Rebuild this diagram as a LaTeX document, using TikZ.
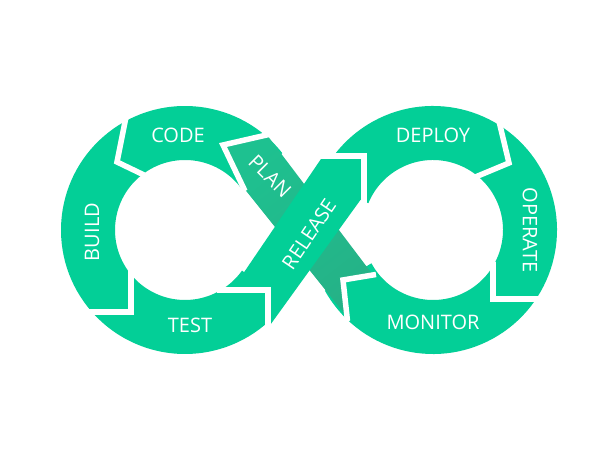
\documentclass[tikz,border=0pt]{standalone}
\usepackage{fontspec}
\setsansfont{Open Sans}
\usepackage{tikz}
\definecolor{mint}{HTML}{03CF97}
\definecolor{planlight}{HTML}{1EC190}
\definecolor{plandark}{HTML}{2A9E7E}
\definecolor{planmid}{HTML}{25B287}

\begin{document}
\begin{tikzpicture}[x=1pt, y=1pt,
    ring/.style={draw=mint, line width=54pt},
    gap/.style={draw=white, line width=5.5pt, line join=miter},
    every node/.append style={text=white, inner sep=0pt,
      font=\sffamily\fontsize{20}{20}\selectfont}]
  \fill[white] (0,0) rectangle (600,460);
  \useasboundingbox (0,0) rectangle (600,460);
  \coordinate (L) at (185,230);
  \coordinate (R) at (433,230);
  % the two loops
  \draw[ring] (L) ++(38:97) arc[start angle=38, end angle=324, radius=97];
  \draw[ring] (R) ++(-151:97) arc[start angle=-151, end angle=157, radius=97];
  % plan ribbon (goes under)
  \shade[top color=planlight, middle color=plandark, bottom color=planmid, shading angle=38]
    (223,315) -- (267,325) -- (373,185) -- (343,180) -- (347,143) -- (243,273) -- cycle;
  % release ribbon (on top)
  \fill[mint] (364,304) -- (323,304) -- (232,170) -- (268,170) -- (268,132) -- (364,265) -- cycle;
  % chevron gaps
  \draw[gap] (271,326) -- (223,315) -- (245,269);
  \draw[gap] (126,343) -- (117,298) -- (144,285);
  \draw[gap] (88,148) -- (131,148) -- (131,190);
  \draw[gap] (217,170) -- (268,170) -- (268,130);
  \draw[gap] (318,304) -- (364,304) -- (364,238);
  \draw[gap] (498,343) -- (509,297) -- (473,282);
  \draw[gap] (493,198) -- (493,161) -- (540,161);
  \draw[gap] (376,185.5) -- (343,180) -- (347.5,139);
  % labels
  \node (code) at (178,325) {CODE};
  \node (build) [rotate=90] at (92,228) {BUILD};
  \node (test) at (190,135) {TEST};
  \node (plan) [rotate=-45] at (270,284) {PLAN};
  \node (release) [rotate=56] at (309,226) {RELEASE};
  \node (deploy) at (433,325) {DEPLOY};
  \node (operate) [rotate=-90] at (530,230) {OPERATE};
  \node (monitor) at (433,138) {MONITOR};
\end{tikzpicture}
\end{document}
